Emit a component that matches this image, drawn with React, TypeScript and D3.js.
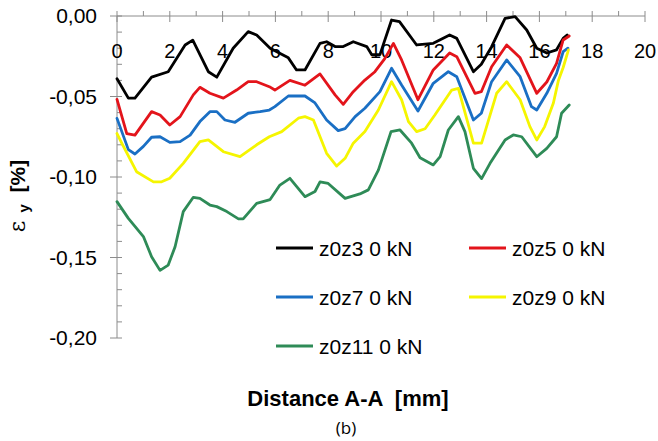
import React from "react";
import * as d3 from "d3";

const W = 658;
const H = 441;

const seriesNames = ["z0z3 0 kN", "z0z5 0 kN", "z0z7 0 kN", "z0z9 0 kN", "z0z11 0 kN"];
const seriesColors = ["#000000", "#e3141b", "#1a6fc4", "#f5f500", "#2e8b57"];

const z0z3X = [0, 0.43, 0.68, 1.31, 1.94, 2.58, 2.87, 3.46, 3.78, 4.4, 4.97, 5.29, 5.8, 6.49, 6.8, 7.12, 7.69, 7.94, 8.26, 8.57, 8.95, 9.46, 9.65, 9.96, 10.4, 10.7, 11.35, 11.98, 12.6, 12.87, 13.5, 13.8, 14.19, 14.7, 15.08, 15.52, 15.9, 16.28, 16.65, 16.9, 17.05];
const z0z3Y = [-0.039, -0.051, -0.051, -0.038, -0.0346, -0.018, -0.015, -0.0346, -0.038, -0.02, -0.0097, -0.0118, -0.02, -0.026, -0.0335, -0.0335, -0.017, -0.016, -0.019, -0.019, -0.016, -0.019, -0.024, -0.024, -0.0025, -0.0035, -0.018, -0.017, -0.0118, -0.0139, -0.0346, -0.03, -0.019, -0.0015, -0.0004, -0.0087, -0.02, -0.023, -0.021, -0.0139, -0.0118];

const z0z5X = [0, 0.37, 0.68, 1.31, 1.63, 2.0, 2.39, 2.89, 3.14, 3.52, 4.03, 4.53, 4.97, 5.29, 5.77, 5.98, 6.55, 7.12, 7.69, 8.26, 8.57, 8.95, 9.39, 9.77, 10.15, 10.47, 10.78, 11.4, 11.98, 12.6, 12.87, 13.56, 13.8, 14.19, 14.76, 15.27, 15.9, 16.28, 16.65, 16.9, 17.13];
const z0z5Y = [-0.0518, -0.073, -0.074, -0.0594, -0.0615, -0.0677, -0.0625, -0.049, -0.0443, -0.048, -0.051, -0.046, -0.0408, -0.0408, -0.0439, -0.046, -0.04, -0.043, -0.036, -0.049, -0.0549, -0.047, -0.0398, -0.0346, -0.0263, -0.017, -0.0273, -0.052, -0.0335, -0.023, -0.0253, -0.048, -0.047, -0.0315, -0.018, -0.026, -0.048, -0.041, -0.0294, -0.0149, -0.0124];

const z0z7X = [0, 0.43, 0.68, 1.0, 1.31, 1.63, 2.0, 2.39, 2.77, 3.14, 3.52, 3.78, 4.09, 4.47, 4.97, 5.42, 5.77, 5.98, 6.49, 7.12, 7.5, 7.94, 8.38, 8.64, 9.02, 9.39, 9.96, 10.4, 10.78, 11.4, 11.98, 12.55, 12.87, 13.5, 13.8, 14.19, 14.76, 15.27, 15.7, 15.9, 16.28, 16.65, 16.9, 17.08];
const z0z7Y = [-0.0636, -0.083, -0.0857, -0.081, -0.0753, -0.075, -0.0785, -0.078, -0.074, -0.0656, -0.0594, -0.0594, -0.0646, -0.066, -0.0604, -0.0594, -0.0584, -0.0563, -0.0497, -0.0497, -0.054, -0.0646, -0.0712, -0.07, -0.0625, -0.0573, -0.047, -0.0325, -0.0429, -0.059, -0.0418, -0.0346, -0.0377, -0.0646, -0.0604, -0.0408, -0.0273, -0.0377, -0.0563, -0.0584, -0.048, -0.0356, -0.0222, -0.02];

const z0z9X = [0, 0.18, 0.74, 1.38, 1.69, 2.0, 2.51, 3.14, 3.46, 4.03, 4.66, 5.29, 5.77, 6.24, 6.87, 7.12, 7.44, 7.94, 8.32, 8.64, 8.95, 9.39, 9.9, 10.4, 10.78, 11.04, 11.35, 11.67, 12.04, 12.68, 12.93, 13.24, 13.5, 13.81, 14.38, 14.76, 15.27, 15.64, 15.9, 16.2, 16.53, 16.72, 16.9, 17.1];
const z0z9Y = [-0.073, -0.079, -0.0967, -0.103, -0.103, -0.1008, -0.0915, -0.078, -0.077, -0.0843, -0.0874, -0.08, -0.075, -0.0718, -0.0635, -0.0625, -0.0646, -0.0853, -0.0932, -0.0884, -0.079, -0.0718, -0.0584, -0.0408, -0.052, -0.0656, -0.0718, -0.07, -0.0615, -0.046, -0.045, -0.0635, -0.079, -0.079, -0.048, -0.0408, -0.052, -0.0687, -0.077, -0.0687, -0.054, -0.04, -0.032, -0.021];

const z0z11X = [0, 0.43, 1.0, 1.31, 1.63, 1.94, 2.2, 2.51, 2.89, 3.14, 3.52, 3.78, 4.16, 4.6, 4.78, 5.29, 5.8, 6.17, 6.55, 7.12, 7.5, 7.69, 8.0, 8.64, 9.2, 9.52, 9.9, 10.38, 10.72, 11.16, 11.48, 11.98, 12.24, 12.55, 12.93, 13.18, 13.5, 13.81, 14.13, 14.7, 15.01, 15.33, 15.9, 16.28, 16.65, 16.84, 17.13];
const z0z11Y = [-0.1153, -0.1257, -0.137, -0.1495, -0.158, -0.1547, -0.1433, -0.1215, -0.1126, -0.1133, -0.1174, -0.1184, -0.1215, -0.126, -0.126, -0.1164, -0.114, -0.105, -0.1008, -0.1122, -0.109, -0.103, -0.104, -0.1133, -0.1105, -0.108, -0.0957, -0.0718, -0.0708, -0.079, -0.088, -0.0925, -0.0874, -0.0708, -0.0625, -0.0718, -0.0946, -0.101, -0.0915, -0.077, -0.0739, -0.075, -0.0874, -0.0822, -0.075, -0.0604, -0.0553];

const xTicks = [0, 2, 4, 6, 8, 10, 12, 14, 16, 18, 20];
const yTicks = [0, -0.05, -0.1, -0.15, -0.2];

const seriesX = [z0z3X, z0z5X, z0z7X, z0z9X, z0z11X];
const seriesY = [z0z3Y, z0z5Y, z0z7Y, z0z9Y, z0z11Y];

export default function App() {
  const x = d3.scaleLinear().domain([0, 20]).range([117, 645]);
  const y = d3.scaleLinear().domain([-0.2, 0]).range([338, 16]);
  const line = d3
    .line<[number, number]>()
    .x((d) => x(d[0]))
    .y((d) => y(d[1]));
  const fmt = (v: number) => d3.format(".2f")(Math.abs(v) < 1e-9 ? 0 : v).replace(".", ",").replace("−", "-");
  const axisColor = "#8c8c8c";
  const font = "'Liberation Sans', Arial, sans-serif";

  const xMinor = d3.range(0, 21, 1).filter((v) => v % 2 !== 0);
  const yMinor = d3.range(0, 21, 1).map((i) => -i * 0.01).filter((_, i) => i % 5 !== 0);

  const legendPos = [
    [276, 248],
    [469, 248],
    [276, 297],
    [469, 297],
    [276, 346],
  ];

  return (
    <svg width={W} height={H} style={{ position: "absolute", left: 0, top: 0, background: "#fff" }}>
      <rect x={0} y={0} width={W} height={H} fill="#fff" />
      {/* Y axis */}
      <line x1={x(0)} x2={x(0)} y1={y(0)} y2={y(-0.2)} stroke={axisColor} strokeWidth={1} />
      {yTicks.map((t) => (
        <g key={"yt" + t}>
          <line x1={x(0) - 7} x2={x(0) + 5} y1={y(t)} y2={y(t)} stroke={axisColor} strokeWidth={1} />
          <text x={97} y={y(t)} dy="0.35em" textAnchor="end" fontFamily={font} fontSize={21} fill="#000">
            {fmt(t)}
          </text>
        </g>
      ))}
      {yMinor.map((t) => (
        <line key={"ym" + t} x1={x(0)} x2={x(0) + 5} y1={y(t)} y2={y(t)} stroke={axisColor} strokeWidth={1} />
      ))}
      {/* X axis */}
      <line x1={x(0)} x2={x(20)} y1={y(0)} y2={y(0)} stroke={axisColor} strokeWidth={1} />
      {xTicks.map((t) => (
        <g key={"xt" + t}>
          <line x1={x(t)} x2={x(t)} y1={y(0) - 5} y2={y(0) + 6} stroke={axisColor} strokeWidth={1} />
          <text x={x(t)} y={58} textAnchor="middle" fontFamily={font} fontSize={20} fill="#000">
            {t}
          </text>
        </g>
      ))}
      {xMinor.map((t) => (
        <line key={"xm" + t} x1={x(t)} x2={x(t)} y1={y(0) - 5} y2={y(0)} stroke={axisColor} strokeWidth={1} />
      ))}
      {/* Series */}
      {seriesNames.map((name, i) => {
        const pts = seriesX[i].map((v, j) => [v, seriesY[i][j]] as [number, number]);
        return (
          <path
            key={name}
            d={line(pts) || ""}
            fill="none"
            stroke={seriesColors[i]}
            strokeWidth={2.8}
            strokeLinejoin="round"
            strokeLinecap="round"
          />
        );
      })}
      {/* Legend */}
      {seriesNames.map((name, i) => (
        <g key={"lg" + name}>
          <line
            x1={legendPos[i][0]}
            x2={legendPos[i][0] + 37}
            y1={legendPos[i][1]}
            y2={legendPos[i][1]}
            stroke={seriesColors[i]}
            strokeWidth={3}
          />
          <text x={legendPos[i][0] + 43} y={legendPos[i][1]} dy="0.36em" fontFamily={font} fontSize={21} fill="#000">
            {name}
          </text>
        </g>
      ))}
      {/* Axis titles */}
      <text
        x={348}
        y={398}
        dy="0.36em"
        textAnchor="middle"
        fontFamily={font}
        fontSize={22}
        fontWeight="bold"
        fill="#000"
        style={{ whiteSpace: "pre" }}
      >
        {"Distance A-A  [mm]"}
      </text>
      <text x={346} y={428} dy="0.36em" textAnchor="middle" fontFamily="'Open Sans', sans-serif" fontSize={17} fill="#000">
        (b)
      </text>
      <text
        transform={`translate(19, 196) rotate(-90)`}
        textAnchor="middle"
        dy="0.36em"
        fontFamily={font}
        fill="#000"
        style={{ whiteSpace: "pre" }}
      >
        <tspan fontSize={22} fontFamily="'DejaVu Serif', serif" fontWeight="normal">ε</tspan>
        <tspan fontSize={15} fontWeight="bold" dy="0.25em">{"  y"}</tspan>
        <tspan fontSize={21} fontWeight="bold" dy="-0.18em">{"  [%]"}</tspan>
      </text>
    </svg>
  );
}
